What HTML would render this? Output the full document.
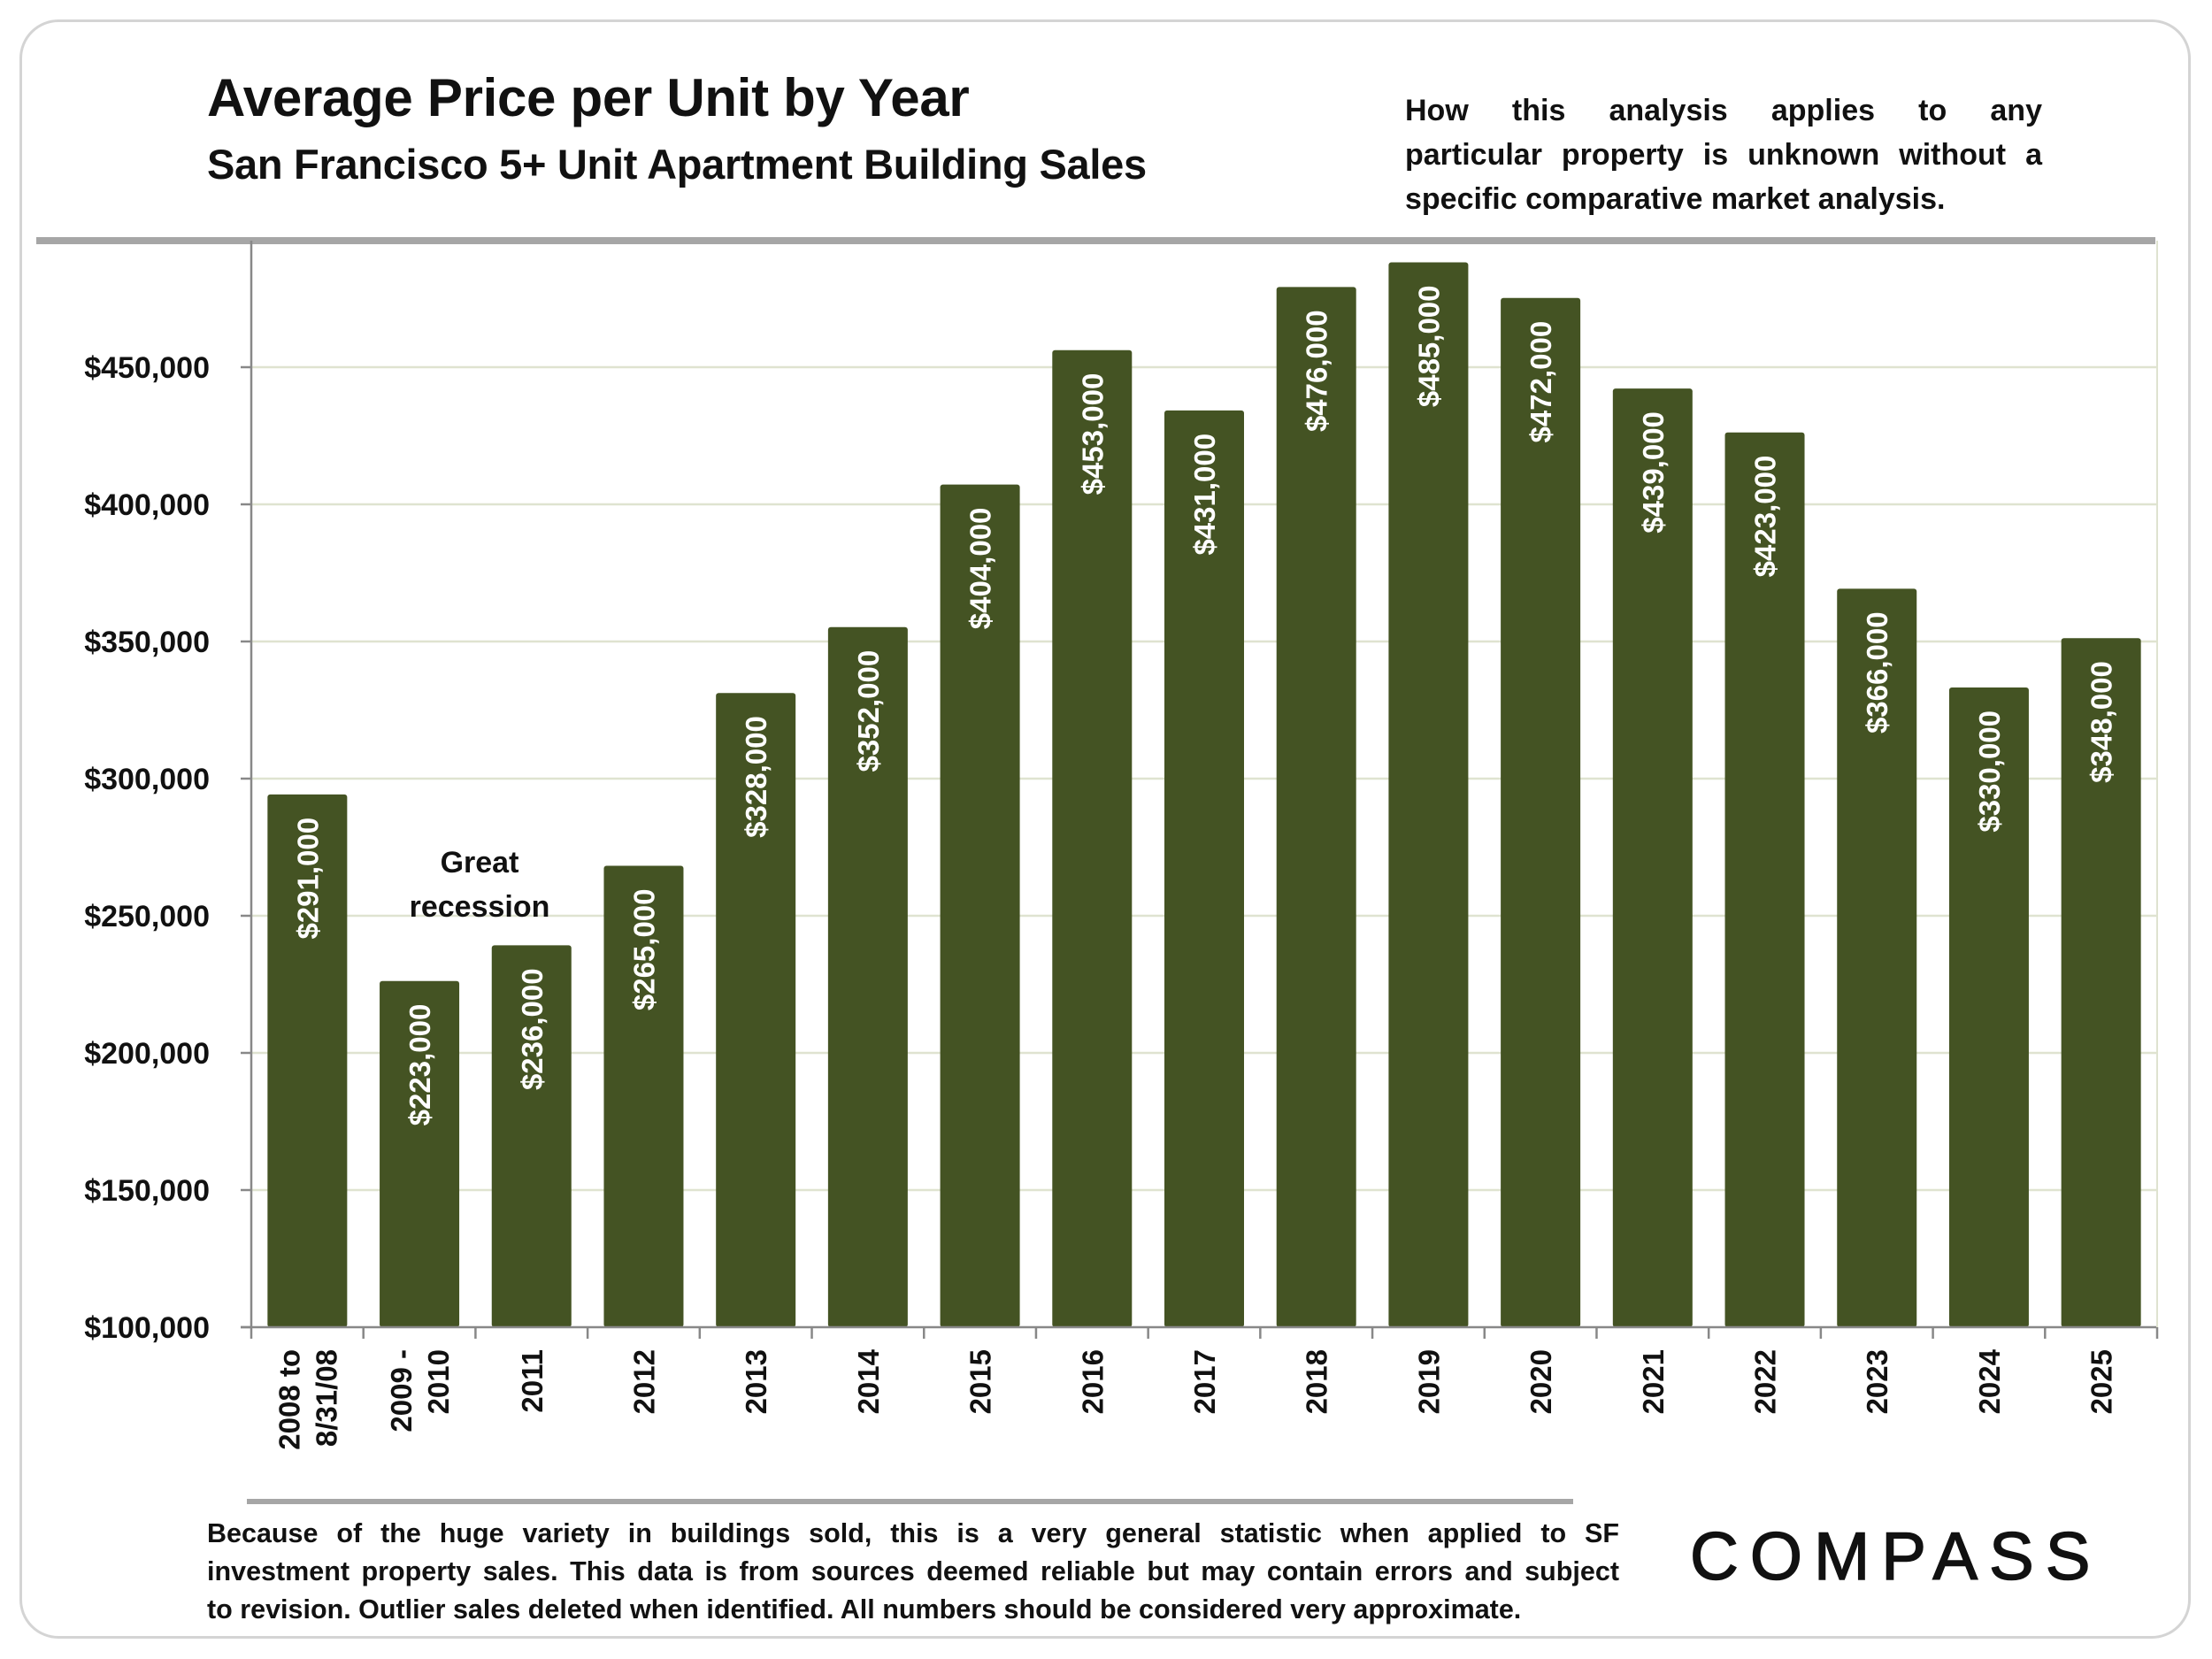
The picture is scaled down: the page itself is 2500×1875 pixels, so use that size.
<!DOCTYPE html>
<html><head><meta charset="utf-8"><style>
html,body{margin:0;padding:0;background:#fff;}
body{width:2500px;height:1875px;position:relative;overflow:hidden;font-family:"Liberation Sans",sans-serif;}
.card{position:absolute;left:22px;top:22px;width:2454px;height:1830px;border:3px solid #d4d4d4;border-radius:44px;box-sizing:border-box;}
.t{position:absolute;font-weight:bold;color:#111;}
.j{text-align:justify;text-align-last:justify;}
</style></head><body>
<div class="card"></div>
<div class="t" style="left:234px;top:76px;font-size:60px;letter-spacing:-0.3px;">Average Price per Unit by Year</div>
<div class="t" style="left:234px;top:158px;font-size:47px;letter-spacing:-0.3px;">San Francisco 5+ Unit Apartment Building Sales</div>
<div class="t" style="left:1588px;top:100px;width:720px;font-size:34px;line-height:50px;">
<div class="j">How this analysis applies to any</div>
<div class="j">particular property is unknown without a</div>
<div>specific comparative market analysis.</div></div>
<div class="t" style="left:234px;top:1712px;width:1596px;font-size:30.5px;line-height:43px;">
<div class="j">Because of the huge variety in buildings sold, this is a very general statistic when applied to SF</div>
<div class="j">investment property sales. This data is from sources deemed reliable but may contain errors and subject</div>
<div>to revision. Outlier sales deleted when identified. All numbers should be considered very approximate.</div></div>
<div class="t" style="left:1910px;top:1716px;font-size:76px;font-weight:normal;letter-spacing:13px;color:#111;-webkit-text-stroke:1.5px #111;">COMPASS</div>
<svg id="chart" width="2500" height="1875" style="position:absolute;left:0;top:0"></svg>
<script>
const categories=["2008 to|8/31/08","2009 -|2010","2011","2012","2013","2014","2015","2016","2017","2018","2019","2020","2021","2022","2023","2024","2025"];
const values=[291000,223000,236000,265000,328000,352000,404000,453000,431000,476000,485000,472000,439000,423000,366000,330000,348000];
const yTicks=[100000,150000,200000,250000,300000,350000,400000,450000];
const NS="http://www.w3.org/2000/svg";
const svg=document.getElementById('chart');
const X0=284,X1=2438,Y0=1500,YT=272;
const step=(X1-X0)/categories.length;
function y(v){return Y0-(v-100000)*(155/50000);}
function x(i){return X0+step*(i+0.5);}
function mk(t,a,p){const e=document.createElementNS(NS,t);for(const k in a)e.setAttribute(k,a[k]);(p||svg).appendChild(e);return e;}
const fmt=v=>'$'+v.toLocaleString('en-US');
let e=mk('line',{x1:41,x2:2436,y1:272,y2:272,stroke:'#a6a6a6','stroke-width':8});

e=mk('line',{x1:279,x2:1778,y1:1697,y2:1697,stroke:'#a6a6a6','stroke-width':6});

yTicks.forEach(v=>{
  if(v>100000){const g=mk('line',{x1:X0,x2:X1,y1:y(v),y2:y(v),stroke:'#dfe3d0','stroke-width':2.5});
  }
  const tk=mk('line',{x1:X0-12,x2:X0,y1:y(v),y2:y(v),stroke:'#888','stroke-width':2.5});
  
  const t=mk('text',{x:237,y:y(v)+12,'text-anchor':'end','font-size':34,'font-weight':'bold',fill:'#111'});
  t.textContent=fmt(v);
  
});
values.forEach((v,i)=>{
  const bw=90,cx=x(i);
  const top=y(v)-10;
  const r=mk('rect',{x:cx-bw/2,y:top,width:bw,height:Y0-top,fill:'#445323',rx:3});
  
  const t=mk('text',{transform:`translate(${cx+12},${top+26}) rotate(-90)`,'text-anchor':'end','font-size':33,'font-weight':'bold',fill:'#fff'});
  t.textContent=fmt(v);
  
  const lines=categories[i].split('|');
  lines.forEach((ln,k)=>{
    const off=(k-(lines.length-1)/2)*42;
    const lt=mk('text',{transform:`translate(${cx+12+off},1525) rotate(-90)`,'text-anchor':'end','font-size':33,'font-weight':'bold',fill:'#111'});
    lt.textContent=ln;
    
  });
});
for(let i=0;i<=categories.length;i++){
  const tk=mk('line',{x1:X0+step*i,x2:X0+step*i,y1:Y0,y2:Y0+13,stroke:'#888','stroke-width':2.5});
  
}
e=mk('line',{x1:X0,x2:X0,y1:YT,y2:Y0,stroke:'#888','stroke-width':2.5});

e=mk('line',{x1:X0-12,x2:X1,y1:Y0,y2:Y0,stroke:'#888','stroke-width':2.5});

e=mk('line',{x1:X1,x2:X1,y1:YT,y2:Y0,stroke:'#dfe3d0','stroke-width':2});

['Great','recession'].forEach((s,k)=>{
  const t=mk('text',{x:542,y:986+k*50,'text-anchor':'middle','font-size':34,'font-weight':'bold',fill:'#111'});
  t.textContent=s;
  
});
</script>
</body></html>
